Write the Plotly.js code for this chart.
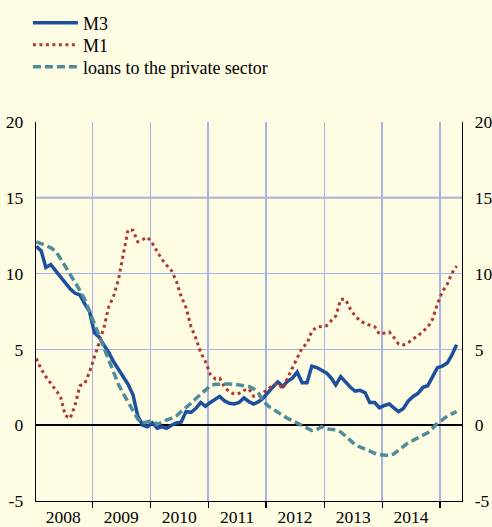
<!DOCTYPE html>
<html>
<head>
<meta charset="utf-8">
<script src="https://cdn.plot.ly/plotly-3.0.1.min.js"></script>
<style>
html,body{margin:0;padding:0;background:#fefce3;}
#chart{width:492px;height:527px;}
</style>
</head>
<body>
<div id="chart"></div>
<script>
// Monthly observations, January 2008 to April 2015 (annual % changes)
const startYear = 2008;
const startMonth = 1;
const seriesNames = ["M3", "M1", "loans to the private sector"];

const m3 = [
  11.8, 11.5, 10.4, 10.6, 10.2, 9.8, 9.4, 9.0, 8.7, 8.6, 8.0, 7.5,
  6.1, 5.8, 5.3, 4.8, 4.2, 3.7, 3.2, 2.7, 2.0, 0.6, 0.0, -0.1,
  0.15, -0.2, -0.1, -0.2, 0.0, 0.15, 0.2, 0.9, 0.85, 1.1, 1.5, 1.25,
  1.5, 1.7, 1.9, 1.6, 1.45, 1.4, 1.5, 1.8, 1.55, 1.4, 1.55, 1.8,
  2.2, 2.55, 2.85, 2.55, 2.9, 3.1, 3.5, 2.8, 2.8, 3.9, 3.8, 3.6,
  3.45, 3.1, 2.65, 3.2, 2.85, 2.5, 2.25, 2.3, 2.15, 1.5, 1.5, 1.15,
  1.3, 1.4, 1.15, 0.9, 1.1, 1.6, 1.9, 2.1, 2.5, 2.6, 3.2, 3.8,
  3.9, 4.1, 4.6, 5.3
];

const m1 = [
  4.4, 3.7, 3.2, 2.75, 2.3, 1.9, 0.65, 0.45, 1.3, 2.6, 2.75, 3.5,
  4.5, 5.5, 6.4, 7.8, 8.5, 9.6, 11.2, 12.9, 12.85, 12.1, 12.25, 12.4,
  12.0, 11.45, 10.95, 10.55, 10.2, 9.5, 8.5, 7.75, 6.5, 5.75, 4.8, 4.2,
  3.35, 3.05, 3.1, 2.5, 2.2, 2.05, 2.1, 2.3, 2.4, 1.9, 1.95, 2.15,
  2.4, 2.65, 2.75, 2.4, 3.1, 3.8, 4.45, 5.1, 5.4, 6.2, 6.47, 6.5,
  6.55, 6.9, 7.2, 8.3, 8.3, 7.65, 7.2, 6.9, 6.7, 6.6, 6.5, 6.0,
  6.1, 6.15, 5.8, 5.35, 5.3, 5.45, 5.7, 5.9, 6.2, 6.45, 7.0, 8.0,
  8.8, 9.3, 10.0, 10.5
];

const loans = [
  12.1, 12.0, 11.85, 11.7, 11.5, 11.0, 10.5, 9.9, 9.4, 8.9, 8.3, 7.5,
  6.6, 5.8, 5.0, 4.2, 3.4, 2.7, 2.1, 1.5, 0.9, 0.4, 0.15, 0.2,
  0.3, 0.05, 0.2, 0.35, 0.45, 0.6, 0.9, 1.15, 1.45, 1.75, 2.05, 2.35,
  2.6, 2.7, 2.72, 2.72, 2.72, 2.7, 2.65, 2.6, 2.55, 2.4, 2.1, 1.6,
  1.25, 1.05, 0.85, 0.65, 0.45, 0.3, 0.15, 0.0, -0.2, -0.35, -0.3, -0.1,
  -0.25, -0.3, -0.3, -0.45, -0.7, -1.0, -1.3, -1.45, -1.6, -1.75, -1.85, -1.95,
  -2.0, -2.0, -1.9, -1.65, -1.35, -1.15, -1.0, -0.85, -0.7, -0.5, -0.2, 0.15,
  0.35, 0.6, 0.75, 0.9
];

const yTickVals = [-5, 0, 5, 10, 15, 20];
const yTickText = ["-5", "0", "5", "10", "15", "20"];

// month dates (mid-month)
const dates = [];
for (let i = 0; i < m3.length; i++) {
  const y = startYear + Math.floor((startMonth - 1 + i) / 12);
  const m = ((startMonth - 1 + i) % 12) + 1;
  dates.push(y + "-" + String(m).padStart(2, "0") + "-15");
}

const BG = "#fefce3";
const GRID = "#a7b3e6";
const FONT = "Liberation Serif, Times New Roman, serif";

const traces = [
  {
    x: dates, y: m3, name: seriesNames[0], type: "scatter", mode: "lines",
    line: {color: "#1c4f9e", width: 3.5}, hoverinfo: "skip", legend: "legend"
  },
  {
    x: dates, y: m1, name: seriesNames[1], type: "scatter", mode: "lines",
    line: {color: "#b2372f", width: 3, dash: "3px,3.5px"}, hoverinfo: "skip", legend: "legend2"
  },
  {
    x: dates, y: loans, name: seriesNames[2], type: "scatter", mode: "lines",
    line: {color: "#4f8c9c", width: 3.5, dash: "8px,4px"}, hoverinfo: "skip", legend: "legend3"
  },
  {
    x: dates, y: m3, yaxis: "y2", type: "scatter", mode: "lines",
    line: {color: "rgba(0,0,0,0)", width: 0}, showlegend: false, hoverinfo: "skip"
  }
];

function legendAt(rowY) {
  return {
    xref: "paper", yref: "container",
    x: -0.019, y: 1 - rowY / 527, xanchor: "left", yanchor: "middle",
    bgcolor: "rgba(0,0,0,0)", borderwidth: 0,
    font: {family: FONT, size: 18, color: "#000"},
    itemwidth: 45
  };
}

const layout = {
  width: 492, height: 527,
  paper_bgcolor: BG, plot_bgcolor: BG,
  margin: {l: 36, r: 30, t: 122, b: 26, pad: 0},
  font: {family: FONT, size: 17.5, color: "#000"},
  showlegend: true,
  legend: legendAt(23),
  legend2: legendAt(45),
  legend3: legendAt(67),
  xaxis: {
    type: "date",
    range: ["2008-01-13", "2015-05-19"],
    tick0: "2008-01-01", dtick: "M12", tickformat: "%Y",
    ticklabelmode: "period", tickangle: 0, ticklabelstandoff: -6,
    ticks: "outside", ticklen: 6, tickwidth: 1.2, tickcolor: "#000",
    showgrid: true, gridcolor: GRID, gridwidth: 1.3,
    showline: true, linecolor: "#000", linewidth: 1.3,
    zeroline: false, fixedrange: true,
    tickfont: {family: FONT, size: 17.5, color: "#000"}
  },
  yaxis: {
    range: [-5, 20], tickvals: yTickVals, ticktext: yTickText,
    ticks: "", showgrid: true, gridcolor: GRID, gridwidth: 1.3,
    showline: true, linecolor: "#000", linewidth: 1.3,
    zeroline: true, zerolinecolor: "#000", zerolinewidth: 1.5,
    ticklabelstandoff: 8, fixedrange: true,
    tickfont: {family: FONT, size: 17.5, color: "#000"}
  },
  yaxis2: {
    range: [-5, 20], tickvals: yTickVals, ticktext: yTickText,
    overlaying: "y", side: "right", anchor: "x",
    ticks: "", showgrid: false,
    showline: true, linecolor: "#000", linewidth: 1.3,
    zeroline: false, ticklabelstandoff: 8, fixedrange: true,
    tickfont: {family: FONT, size: 17.5, color: "#000"}
  },
  shapes: [
    {type: "line", xref: "paper", yref: "y", x0: 0, x1: 1, y0: 15, y1: 15,
     line: {color: "#c9cad4", width: 2.5}, layer: "below"}
  ]
};

Plotly.newPlot("chart", traces, layout, {displayModeBar: false, staticPlot: true});
</script>
</body>
</html>
